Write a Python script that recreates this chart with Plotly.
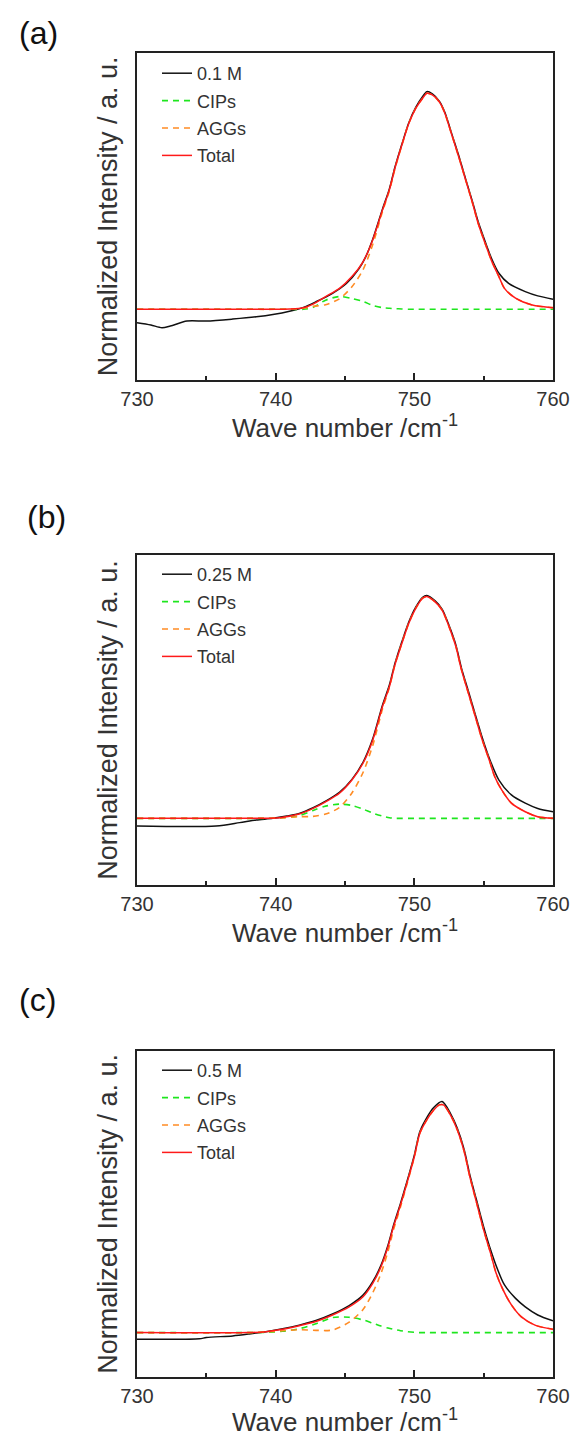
import plotly.graph_objects as go

# ---------------- data ----------------
labels = ["0.1 M", "0.25 M", "0.5 M"]
panel_tags = ["(a)", "(b)", "(c)"]

# panel (a) 0.1 M
wn_exp_a = [730, 731.0, 731.8, 732.4, 733.6, 735.0, 736.9, 738.6, 739.8, 741.0,
            742.0, 742.9, 744.1, 745.1, 746.0, 746.5, 747.0, 747.7, 748.2, 748.6,
            749.1, 749.6, 750.1, 750.6, 750.9, 751.3, 751.8, 752.2, 752.7, 753.2,
            753.7, 754.2, 754.6, 755.1, 755.6, 756.1, 756.8, 758.0, 758.9, 760]
int_exp_a = [0.175, 0.168, 0.160, 0.165, 0.180, 0.180, 0.186, 0.193, 0.200, 0.210,
             0.222, 0.239, 0.265, 0.295, 0.340, 0.377, 0.430, 0.522, 0.584, 0.650,
             0.720, 0.786, 0.833, 0.866, 0.881, 0.874, 0.852, 0.818, 0.752, 0.686,
             0.614, 0.544, 0.484, 0.424, 0.368, 0.326, 0.295, 0.270, 0.257, 0.247]
wn_fit_a = [730, 738, 740, 741, 742, 742.7, 743.6, 744.6, 745.5, 746.3,
            747.0, 747.7, 748.2, 748.6, 749.1, 749.6, 750.1, 750.6, 750.9, 751.3,
            751.8, 752.2, 752.7, 753.2, 753.7, 754.2, 754.6, 755.1, 755.6, 756.1,
            756.5, 757.3, 758.5, 760]
total_a = [0.216, 0.216, 0.216, 0.217, 0.221, 0.232, 0.255, 0.280, 0.316, 0.361,
           0.428, 0.519, 0.581, 0.647, 0.718, 0.784, 0.830, 0.861, 0.876, 0.871,
           0.850, 0.815, 0.749, 0.682, 0.611, 0.540, 0.479, 0.418, 0.361, 0.316,
           0.280, 0.250, 0.229, 0.221]
cips_a = [0.216, 0.216, 0.216, 0.216, 0.216, 0.222, 0.244, 0.255, 0.249, 0.240,
          0.228, 0.221, 0.219, 0.218, 0.217, 0.216, 0.216, 0.216, 0.216, 0.216,
          0.216, 0.216, 0.216, 0.216, 0.216, 0.216, 0.216, 0.216, 0.216, 0.216,
          0.216, 0.216, 0.216, 0.216]
aggs_a = [0.216, 0.216, 0.216, 0.217, 0.219, 0.225, 0.230, 0.248, 0.285, 0.337,
          0.414, 0.514, 0.578, 0.645, 0.717, 0.784, 0.830, 0.861, 0.876, 0.871,
          0.850, 0.815, 0.749, 0.682, 0.611, 0.540, 0.479, 0.418, 0.361, 0.316,
          0.280, 0.250, 0.229, 0.221]

# panel (b) 0.25 M
wn_exp_b = [730, 735.7, 737.4, 738.6, 739.8, 740.8, 741.7, 742.7, 743.6, 744.6,
            745.5, 746.3, 747.0, 747.7, 748.2, 748.6, 749.1, 749.6, 750.1, 750.6,
            750.9, 751.5, 752.0, 752.5, 753.0, 753.4, 753.9, 754.4, 754.9, 755.4,
            756.1, 757.0, 758.0, 758.9, 760]
int_exp_b = [0.179, 0.179, 0.189, 0.197, 0.202, 0.209, 0.217, 0.234, 0.254, 0.281,
             0.320, 0.372, 0.443, 0.545, 0.606, 0.671, 0.737, 0.797, 0.842, 0.872,
             0.877, 0.861, 0.836, 0.787, 0.727, 0.657, 0.587, 0.516, 0.446, 0.385,
             0.318, 0.273, 0.248, 0.232, 0.222]
wn_fit_b = [730, 738, 740.3, 741.7, 742.7, 743.6, 744.6, 745.5, 746.3, 747.0,
            747.7, 748.2, 748.6, 749.1, 749.6, 750.1, 750.6, 750.9, 751.5, 752.0,
            752.5, 753.0, 753.4, 753.9, 754.4, 754.9, 755.4, 755.8, 756.3, 757.0,
            758.0, 758.9, 760]
total_b = [0.202, 0.202, 0.204, 0.215, 0.232, 0.252, 0.278, 0.318, 0.369, 0.439,
           0.540, 0.601, 0.667, 0.732, 0.793, 0.838, 0.869, 0.874, 0.858, 0.833,
           0.783, 0.722, 0.652, 0.581, 0.510, 0.439, 0.379, 0.328, 0.288, 0.248,
           0.222, 0.207, 0.202]
cips_b = [0.202, 0.202, 0.203, 0.210, 0.226, 0.239, 0.245, 0.241, 0.230, 0.218,
          0.209, 0.204, 0.202, 0.202, 0.202, 0.202, 0.202, 0.202, 0.202, 0.202,
          0.202, 0.202, 0.202, 0.202, 0.202, 0.202, 0.202, 0.202, 0.202, 0.202,
          0.202, 0.202, 0.202]
aggs_b = [0.202, 0.202, 0.203, 0.207, 0.208, 0.215, 0.235, 0.279, 0.341, 0.423,
          0.533, 0.599, 0.667, 0.732, 0.793, 0.838, 0.869, 0.874, 0.858, 0.833,
          0.783, 0.722, 0.652, 0.581, 0.510, 0.439, 0.379, 0.328, 0.288, 0.248,
          0.222, 0.207, 0.202]

# panel (c) 0.5 M
wn_exp_c = [730, 734.5, 735.0, 736.9, 738.1, 739.3, 740.5, 741.7, 742.9, 744.1,
            745.3, 746.3, 747.0, 747.6, 748.1, 748.5, 749.0, 749.5, 750.0, 750.4,
            750.9, 751.4, 752.0, 752.6, 753.1, 753.6, 754.0, 754.5, 755.0, 755.5,
            756.0, 756.5, 757.3, 758.0, 758.9, 760]
int_exp_c = [0.116, 0.117, 0.121, 0.126, 0.132, 0.139, 0.148, 0.159, 0.173, 0.193,
             0.219, 0.251, 0.292, 0.343, 0.404, 0.465, 0.532, 0.604, 0.680, 0.752,
             0.795, 0.826, 0.844, 0.808, 0.762, 0.696, 0.620, 0.540, 0.460, 0.390,
             0.330, 0.282, 0.241, 0.215, 0.190, 0.172]
wn_fit_c = [730, 738, 739.3, 740.5, 741.7, 742.9, 744.1, 745.3, 746.3, 747.0,
            747.6, 748.1, 748.5, 749.0, 749.5, 750.0, 750.4, 750.9, 751.4, 751.8,
            752.1, 752.6, 753.1, 753.6, 754.0, 754.5, 755.0, 755.5, 755.9, 756.4,
            757.0, 757.7, 758.7, 760]
total_c = [0.136, 0.136, 0.139, 0.146, 0.157, 0.170, 0.190, 0.215, 0.246, 0.287,
           0.338, 0.399, 0.461, 0.527, 0.599, 0.675, 0.747, 0.788, 0.818, 0.834,
           0.834, 0.803, 0.757, 0.690, 0.614, 0.532, 0.450, 0.379, 0.318, 0.267,
           0.221, 0.185, 0.159, 0.146]
cips_c = [0.136, 0.136, 0.137, 0.140, 0.148, 0.163, 0.182, 0.183, 0.175, 0.165,
          0.156, 0.150, 0.146, 0.142, 0.139, 0.137, 0.136, 0.136, 0.136, 0.136,
          0.136, 0.136, 0.136, 0.136, 0.136, 0.136, 0.136, 0.136, 0.136, 0.136,
          0.136, 0.136, 0.136, 0.136]
aggs_c = [0.136, 0.136, 0.138, 0.142, 0.145, 0.143, 0.144, 0.168, 0.207, 0.258,
          0.318, 0.385, 0.451, 0.521, 0.596, 0.674, 0.747, 0.788, 0.818, 0.834,
          0.834, 0.803, 0.757, 0.690, 0.614, 0.532, 0.450, 0.379, 0.318, 0.267,
          0.221, 0.185, 0.159, 0.146]

panels = [
    (wn_exp_a, int_exp_a, wn_fit_a, cips_a, aggs_a, total_a),
    (wn_exp_b, int_exp_b, wn_fit_b, cips_b, aggs_b, total_b),
    (wn_exp_c, int_exp_c, wn_fit_c, cips_c, aggs_c, total_c),
]

# ---------------- styling ----------------
W, H = 571, 1437
FONT = "Arial, Liberation Sans, Helvetica, sans-serif"
TXT = "#333333"
BLACK = "#111111"
GREEN = "#1ee61e"
ORANGE = "#ff8c24"
RED = "#ff1a1a"

# plot-area pixel boxes (top, bottom) for each panel
boxes = [(52.7, 380.0), (555.0, 885.0), (1050.7, 1377.0)]
legend_tops = [55, 556, 1052]
tag_pos = [(38, 33), (46, 517), (37, 1000)]
ML, MR = 137, 18
PW = W - ML - MR

fig = go.Figure()
legend_names = ["legend", "legend2", "legend3"]

for i, (wx, wy, fx, cp, ag, tt) in enumerate(panels):
    xa = "x" if i == 0 else f"x{i+1}"
    ya = "y" if i == 0 else f"y{i+1}"
    lg = legend_names[i]
    common = dict(xaxis=xa, yaxis=ya, legend=lg, mode="lines")
    fig.add_trace(go.Scatter(x=wx, y=wy, name=labels[i], legendgroup=f"e{i}",
                             line=dict(color=BLACK, width=1.5, shape="spline", smoothing=0.8),
                             **common))
    fig.add_trace(go.Scatter(x=fx, y=cp, name="CIPs", legendgroup=f"c{i}",
                             line=dict(color=GREEN, width=1.6, dash="6px,5px", shape="spline", smoothing=0.8),
                             **common))
    fig.add_trace(go.Scatter(x=fx, y=ag, name="AGGs", legendgroup=f"g{i}",
                             line=dict(color=ORANGE, width=1.6, dash="6px,5px", shape="spline", smoothing=0.8),
                             **common))
    fig.add_trace(go.Scatter(x=fx, y=tt, name="Total", legendgroup=f"t{i}",
                             line=dict(color=RED, width=1.5, shape="spline", smoothing=0.8),
                             **common))

layout = dict(
    width=W, height=H,
    margin=dict(l=ML, r=MR, t=0, b=0),
    paper_bgcolor="white", plot_bgcolor="white",
    font=dict(family=FONT, color=TXT),
    annotations=[],
)

for i, (top, bot) in enumerate(boxes):
    sfx = "" if i == 0 else str(i + 1)
    dom = [1 - bot / H, 1 - top / H]
    layout[f"xaxis{sfx}"] = dict(
        domain=[0, 1], anchor=f"y{sfx}", range=[730, 760],
        tick0=730, dtick=10, ticks="inside", ticklen=7, tickwidth=1.5, tickcolor="#222",
        minor=dict(ticks="inside", ticklen=4, tickwidth=1.5, dtick=5, tickcolor="#222"),
        showline=True, linecolor="#222", linewidth=2, mirror=True,
        showgrid=False, zeroline=False,
        tickfont=dict(size=20, color=TXT, family=FONT),
        ticklabeloverflow="allow",
        title=dict(text="Wave number /cm<sup>-1</sup>", font=dict(size=26, color=TXT, family=FONT),
                   standoff=4),
        automargin=False,
    )
    layout[f"yaxis{sfx}"] = dict(
        domain=dom, anchor=f"x{sfx}", range=[0, 1],
        showticklabels=False, ticks="",
        showline=True, linecolor="#222", linewidth=2, mirror=True,
        showgrid=False, zeroline=False,
        title=dict(text="Normalized Intensity / a. u.", font=dict(size=27, color=TXT, family=FONT),
                   standoff=10),
        automargin=False,
    )
    lname = legend_names[i]
    layout[lname] = dict(
        x=(157 - ML) / PW, xanchor="left", xref="paper",
        y=1 - legend_tops[i] / H, yanchor="top", yref="paper",
        bgcolor="rgba(0,0,0,0)", borderwidth=0,
        font=dict(size=18, color=TXT, family=FONT),
        tracegroupgap=1, itemwidth=30,
    )
    tx, ty = tag_pos[i]
    layout["annotations"].append(dict(
        text=panel_tags[i], x=(tx - ML) / PW, y=1 - ty / H, xref="paper", yref="paper",
        xanchor="center", yanchor="middle", showarrow=False,
        font=dict(size=32, color="#111", family=FONT),
    ))

fig.update_layout(**layout)
fig.write_html(
    "out.html",
    config={"displayModeBar": False},
    post_script="document.body.style.margin='0';document.body.style.overflow='hidden';",
)
